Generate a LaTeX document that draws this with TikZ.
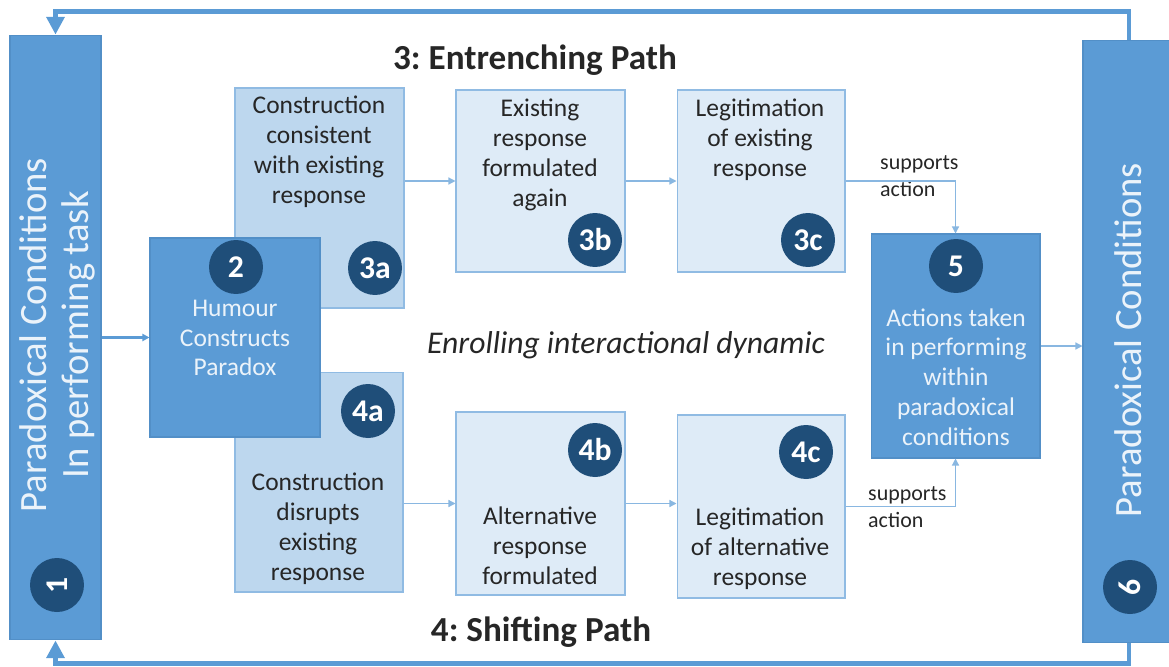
\documentclass[tikz,border=0pt]{standalone}
\usepackage{fontspec}
\setmainfont{Carlito}
\usetikzlibrary{arrows.meta}
\definecolor{midblue}{RGB}{91,155,213}
\definecolor{lightblue}{RGB}{189,215,238}
\definecolor{paleblue}{RGB}{222,235,247}
\definecolor{edgeblue}{RGB}{157,195,230}
\definecolor{navy}{RGB}{31,78,121}
\frenchspacing

\begin{document}
\begin{tikzpicture}[%
  x=0.02cm, y=-0.02cm,
  >={Triangle[width=10pt,length=10pt]},
  box/.style={draw=edgeblue!80!midblue, line width=0.6pt, inner sep=0pt},
  darkbox/.style={box, fill=midblue, draw=midblue!85!navy},
  lightbox/.style={box, fill=lightblue},
  palebox/.style={box, fill=paleblue},
  txt/.style={align=center, text=black!85, font=\fontsize{14.5}{17}\selectfont},
  whitetxt/.style={txt, text=paleblue!60!white},
  num/.style={circle, fill=navy, text=white, minimum size=1.08cm, inner sep=0pt,
    font=\fontsize{18}{18}\selectfont\bfseries},
  feedback/.style={->, midblue, line width=2.4pt},
  link/.style={-{Triangle[width=4pt,length=4pt]}, edgeblue!70!midblue, line width=0.7pt},
]
  \useasboundingbox (0,0) rectangle (1169,666);

  % side columns
  \node[darkbox, minimum width=1.82cm, minimum height=12.1cm] (b1) at (55.5,337.5) {};
  \node[darkbox, minimum width=1.84cm, minimum height=12.06cm] (b6) at (1129,341.5) {};
  \node[whitetxt, rotate=90, font=\fontsize{22}{24}\selectfont] (t1) at (57,335)
    {Paradoxical Conditions\\In performing task};
  \node[whitetxt, rotate=90, font=\fontsize{22}{24}\selectfont] (t6) at (1128,340)
    {Paradoxical Conditions};
  \node[num, rotate=90] (n1) at (57,585) {1};
  \node[num, rotate=90] (n6) at (1130,587) {6};

  % entrenching and shifting paths
  \node[lightbox, minimum width=3.38cm, minimum height=4.4cm] (b3a) at (319.5,198) {};
  \node[lightbox, minimum width=3.36cm, minimum height=4.4cm] (b4a) at (319,482) {};
  \node[darkbox, minimum width=3.4cm, minimum height=3.98cm] (b2) at (235,337.5) {};
  \node[palebox, minimum width=3.38cm, minimum height=3.64cm] (b3b) at (540.5,181) {};
  \node[palebox, minimum width=3.36cm, minimum height=3.64cm] (b3c) at (761,181) {};
  \node[palebox, minimum width=3.38cm, minimum height=3.66cm] (b4b) at (540.5,503.5) {};
  \node[palebox, minimum width=3.36cm, minimum height=3.66cm] (b4c) at (761,506.5) {};
  \node[darkbox, minimum width=3.38cm, minimum height=4.48cm] (b5) at (955.5,346) {};

  \node[txt] (t3a) at (319,152) {Construction\\consistent\\with existing\\response};
  \node[txt] (t3b) at (540,155) {Existing\\response\\formulated\\again};
  \node[txt] (t3c) at (760,140) {Legitimation\\of existing\\response};
  \node[whitetxt] (t2) at (235,338) {Humour\\Constructs\\Paradox};
  \node[txt] (t4a) at (318,529) {Construction\\disrupts\\existing\\response};
  \node[txt] (t4b) at (540,546) {Alternative\\response\\formulated};
  \node[txt] (t4c) at (760,549) {Legitimation\\of alternative\\response};
  \node[whitetxt] (t5) at (956,377)
    {Actions taken\\in performing\\within\\paradoxical\\conditions};

  \node[num] (n2) at (236,267) {2};
  \node[num] (n3a) at (375,268) {3a};
  \node[num] (n3b) at (595,240) {3b};
  \node[num] (n3c) at (808,240) {3c};
  \node[num] (n4a) at (368,411) {4a};
  \node[num] (n4b) at (595,450) {4b};
  \node[num] (n4c) at (806,452) {4c};
  \node[num] (n5) at (956,266) {5};

  \node[font=\fontsize{20}{20}\selectfont\bfseries, text=black!85] (head3) at (535,60)
    {3: Entrenching Path};
  \node[font=\fontsize{20}{20}\selectfont\bfseries, text=black!85] (head4) at (541,632)
    {4: Shifting Path};
  \node[font=\fontsize{18}{18}\selectfont\itshape, text=black!85] (mid) at (626,345)
    {Enrolling interactional dynamic};

  \node[anchor=west, align=left, text=black!85, font=\fontsize{12.5}{15.5}\selectfont]
    (sup3) at (874,176) {supports\\action};
  \node[anchor=west, align=left, text=black!85, font=\fontsize{12.5}{15.5}\selectfont]
    (sup4) at (862,507) {supports\\action};

  % connectors
  \draw[feedback] (b6.north) -- ++(0,-28) -| (b1.north);
  \draw[feedback] (b6.south) -- ++(0,20) -| (b1.south);
  \draw[link, line width=1.4pt, midblue] (b1.east) -- (b2.west);
  \draw[link] (b3a.east |- b3b.west) -- (b3b.west);
  \draw[link] (b3b.east) -- (b3c.west);
  \draw[link] (b3c.east) -| (b5.north);
  \draw[link] (b4a.east |- b4b.west) -- (b4b.west);
  \draw[link] (b4b.east) -- (b4c.west |- b4b.east);
  \draw[link] (b4c.east) -| (b5.south);
  \draw[link] (b5.east) -- (b6.west |- b5.east);

\end{tikzpicture}
\end{document}
